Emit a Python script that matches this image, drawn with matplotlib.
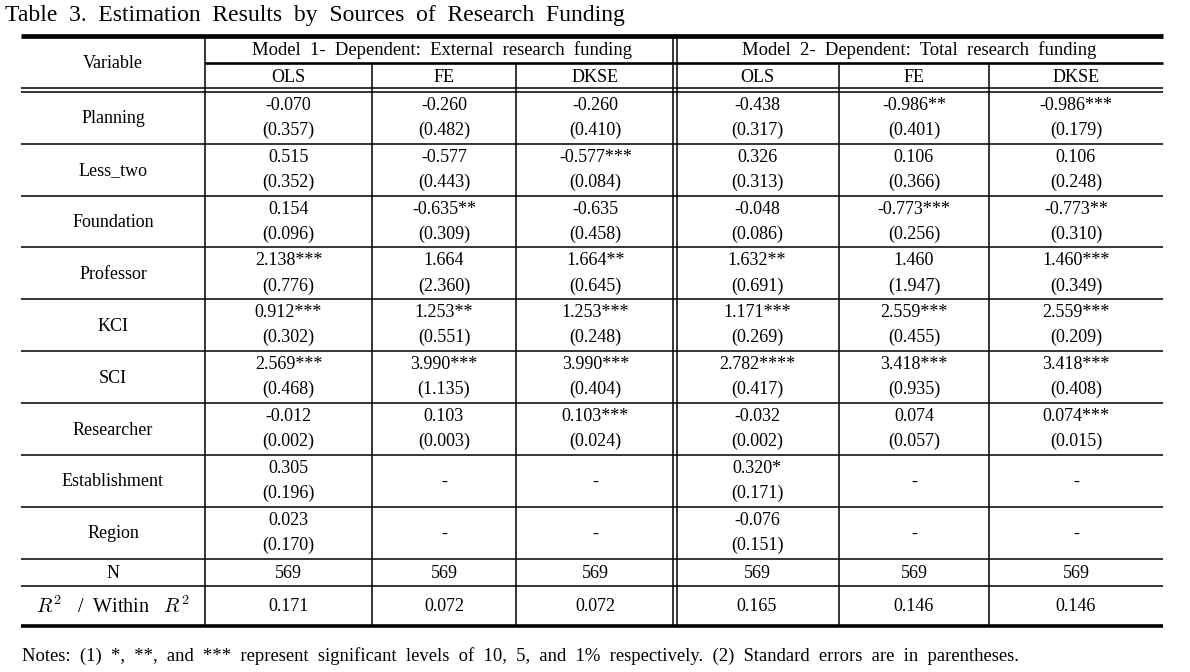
import matplotlib
matplotlib.use("Agg")
import matplotlib.pyplot as plt

plt.rcParams['font.family'] = ['Liberation Serif', 'DejaVu Serif']
plt.rcParams['mathtext.fontset'] = 'cm'

title = "Table  3.  Estimation  Results  by  Sources  of  Research  Funding"
notes = ("Notes:  (1)  *,  **,  and  ***  represent  significant  levels  of  10,  5,  and  1%  respectively.  "
         "(2)  Standard  errors  are  in  parentheses.")
model_headers = ["Model  1-  Dependent:  External  research  funding",
                 "Model  2-  Dependent:  Total  research  funding"]
estimators = ["OLS", "FE", "DKSE", "OLS", "FE", "DKSE"]
variables = ["Planning", "Less_two", "Foundation", "Professor", "KCI", "SCI",
             "Researcher", "Establishment", "Region"]

# coefficients per column (None = not estimated)
m1_ols_coef = [-0.070, 0.515, 0.154, 2.138, 0.912, 2.569, -0.012, 0.305, 0.023]
m1_ols_star = [0, 0, 0, 3, 3, 3, 0, 0, 0]
m1_ols_se = [0.357, 0.352, 0.096, 0.776, 0.302, 0.468, 0.002, 0.196, 0.170]

m1_fe_coef = [-0.260, -0.577, -0.635, 1.664, 1.253, 3.990, 0.103, None, None]
m1_fe_star = [0, 0, 2, 0, 2, 3, 0, 0, 0]
m1_fe_se = [0.482, 0.443, 0.309, 2.360, 0.551, 1.135, 0.003, None, None]

m1_dk_coef = [-0.260, -0.577, -0.635, 1.664, 1.253, 3.990, 0.103, None, None]
m1_dk_star = [0, 3, 0, 2, 3, 3, 3, 0, 0]
m1_dk_se = [0.410, 0.084, 0.458, 0.645, 0.248, 0.404, 0.024, None, None]

m2_ols_coef = [-0.438, 0.326, -0.048, 1.632, 1.171, 2.782, -0.032, 0.320, -0.076]
m2_ols_star = [0, 0, 0, 2, 3, 4, 0, 1, 0]
m2_ols_se = [0.317, 0.313, 0.086, 0.691, 0.269, 0.417, 0.002, 0.171, 0.151]

m2_fe_coef = [-0.986, 0.106, -0.773, 1.460, 2.559, 3.418, 0.074, None, None]
m2_fe_star = [2, 0, 3, 0, 3, 3, 0, 0, 0]
m2_fe_se = [0.401, 0.366, 0.256, 1.947, 0.455, 0.935, 0.057, None, None]

m2_dk_coef = [-0.986, 0.106, -0.773, 1.460, 2.559, 3.418, 0.074, None, None]
m2_dk_star = [3, 0, 2, 3, 3, 3, 3, 0, 0]
m2_dk_se = [0.179, 0.248, 0.310, 0.349, 0.209, 0.408, 0.015, None, None]

n_obs = [569, 569, 569, 569, 569, 569]
r2 = [0.171, 0.072, 0.072, 0.165, 0.146, 0.146]

columns = [
    (m1_ols_coef, m1_ols_star, m1_ols_se),
    (m1_fe_coef, m1_fe_star, m1_fe_se),
    (m1_dk_coef, m1_dk_star, m1_dk_se),
    (m2_ols_coef, m2_ols_star, m2_ols_se),
    (m2_fe_coef, m2_fe_star, m2_fe_se),
    (m2_dk_coef, m2_dk_star, m2_dk_se),
]

# ---------------- layout (pixel coordinates) ----------------
W, H = 1190, 672
fig = plt.figure(figsize=(W / 100, H / 100), dpi=100)
ax = fig.add_axes([0, 0, 1, 1])
ax.set_xlim(0, W)
ax.set_ylim(H, 0)
ax.axis('off')

left, right = 21, 1163
col_edges = [205, 372, 516, 675, 839, 989, right]
y_top = 36
y_mid = 63
y_dbl = 90
row_h = 51.9
y_rows = [y_dbl + 1.7 + i * row_h for i in range(len(variables) + 1)]
y_n_bot = 586
y_bottom = 625.5

fs = 13.0
lw_thin = 1.1
k = 'black'

def hline(y, x0=left, x1=right, lw=lw_thin):
    ax.plot([x0, x1], [y, y], color=k, lw=lw, solid_capstyle='butt')

def vline(x, y0, y1, lw=lw_thin):
    ax.plot([x, x], [y0, y1], color=k, lw=lw, solid_capstyle='butt')

# title and notes
ax.text(5, 15, title, fontsize=17, ha='left', va='center', color=k)
ax.text(22, 656, notes, fontsize=13.4, ha='left', va='center', color=k)

# horizontal rules
hline(y_top, lw=3.4)
hline(y_mid, x0=col_edges[0], lw=1.9)
hline(y_dbl - 1.7)
hline(y_dbl + 1.7)
for y in y_rows[1:]:
    hline(y)
hline(y_n_bot)
hline(y_bottom, lw=2.6)

# vertical rules
vline(col_edges[0], y_top, y_bottom)
vline(col_edges[1], y_mid, y_bottom)
vline(col_edges[2], y_mid, y_bottom)
vline(col_edges[3] - 1.7, y_top, y_bottom)
vline(col_edges[3] + 1.7, y_top, y_bottom)
vline(col_edges[4], y_mid, y_bottom)
vline(col_edges[5], y_mid, y_bottom)

# header texts
var_cx = (left + col_edges[0]) / 2
ax.text(var_cx, (y_top + y_dbl) / 2, "Variable", fontsize=fs, ha='center', va='center')
ax.text((col_edges[0] + col_edges[3]) / 2 + 2, (y_top + y_mid) / 2 + 1, model_headers[0],
        fontsize=13.4, ha='center', va='center')
ax.text((col_edges[3] + right) / 2, (y_top + y_mid) / 2 + 1, model_headers[1],
        fontsize=13.4, ha='center', va='center')
col_cx = [(col_edges[i] + col_edges[i + 1]) / 2 for i in range(6)]
for cx, est in zip(col_cx, estimators):
    ax.text(cx, (y_mid + y_dbl) / 2 + 1, est, fontsize=fs, ha='center', va='center')

# body
for i, var in enumerate(variables):
    y0, y1 = y_rows[i], y_rows[i + 1]
    ax.text(var_cx, (y0 + y1) / 2 + 1, var, fontsize=fs, ha='center', va='center')
    for cx, (coef, star, se) in zip(col_cx, columns):
        if coef[i] is None:
            ax.text(cx, (y0 + y1) / 2 + 1, "-", fontsize=fs, ha='center', va='center')
        else:
            ax.text(cx, y0 + 13.5, f"{coef[i]:.3f}" + "*" * star[i],
                    fontsize=fs, ha='center', va='center')
            ax.text(cx, y0 + 38.5, f"({se[i]:.3f})", fontsize=fs, ha='center', va='center')

yN = (y_rows[-1] + y_n_bot) / 2 + 1
ax.text(var_cx, yN, "N", fontsize=fs, ha='center', va='center')
yR = (y_n_bot + y_bottom) / 2 + 1
ax.text(var_cx, yR, r"$R^2$   /  Within   $R^2$", fontsize=14.5, ha='center', va='center')
for cx, n, r in zip(col_cx, n_obs, r2):
    ax.text(cx, yN, f"{n}", fontsize=fs, ha='center', va='center')
    ax.text(cx, yR, f"{r:.3f}", fontsize=fs, ha='center', va='center')

fig.savefig("out.png", dpi=100)
